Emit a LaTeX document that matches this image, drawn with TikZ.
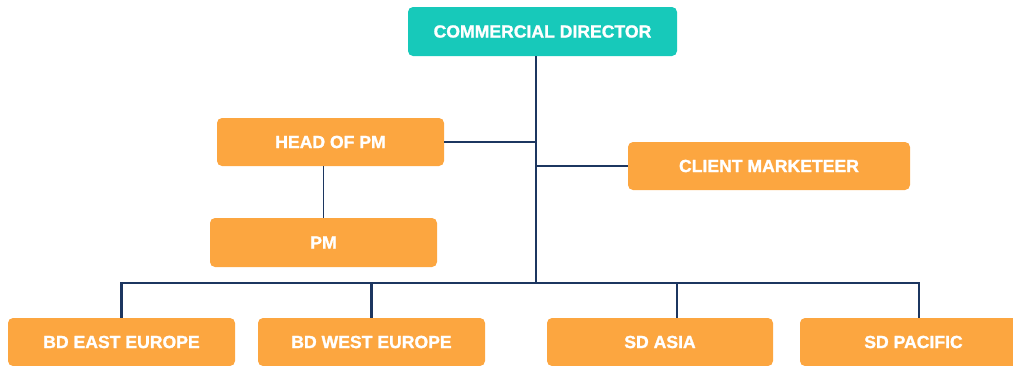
\documentclass[tikz,border=0pt]{standalone}
\usepackage{fontspec}
\setmainfont{Liberation Sans}[FakeBold=1.3]
\definecolor{boxorange}{HTML}{FCA640}
\definecolor{boxteal}{HTML}{17C9BA}
\definecolor{linenavy}{HTML}{1C3660}
\begin{document}
\begin{tikzpicture}[x=1pt,y=-1pt,
  orgbox/.style={rounded corners=5pt, fill=boxorange, text=white, inner sep=0pt,
    minimum width=227pt, minimum height=48pt, font=\fontsize{17.6}{19}\selectfont\bfseries},
  tealbox/.style={orgbox, fill=boxteal, minimum width=269pt, minimum height=49pt},
  link/.style={draw=linenavy, line width=2.1pt},
  thinlink/.style={draw=linenavy, line width=1.4pt}]
\useasboundingbox (0,0) rectangle (1013,365);
\clip (0,0) rectangle (1013,365);
\node[tealbox] (cd) at (542.5,31.5) {COMMERCIAL DIRECTOR};
\node[orgbox] (head) at (330.5,142) {HEAD OF PM};
\node[orgbox, minimum height=49pt] (pm) at (323.5,242.5) {PM};
\node[orgbox, minimum width=282pt] (cm) at (769,166) {CLIENT MARKETEER};
\node[orgbox] (bde) at (121.5,342) {BD EAST EUROPE};
\node[orgbox] (bdw) at (371.5,342) {BD WEST EUROPE};
\node[orgbox, minimum width=226pt] (asia) at (660,342) {SD ASIA};
\node[orgbox] (pac) at (913.5,342) {SD PACIFIC};
\coordinate (j) at (536,283);
\coordinate (dA) at ([xshift=17pt]asia.north);
\coordinate (dP) at ([xshift=5.5pt]pac.north);
\draw[link] (j |- cd.south) -- (j);
\draw[link] (head.east) -- (head.east -| j);
\draw[link] (cm.west) -- (cm.west -| j);
\draw[thinlink] (pm.north) -- (pm.north |- head.south);
\draw[link, line join=miter] (bde.north) -- (bde.north |- j) -- (dP |- j) -- (dP);
\draw[link] (bdw.north) -- (bdw.north |- j);
\draw[link] (dA) -- (dA |- j);
\end{tikzpicture}
\end{document}
